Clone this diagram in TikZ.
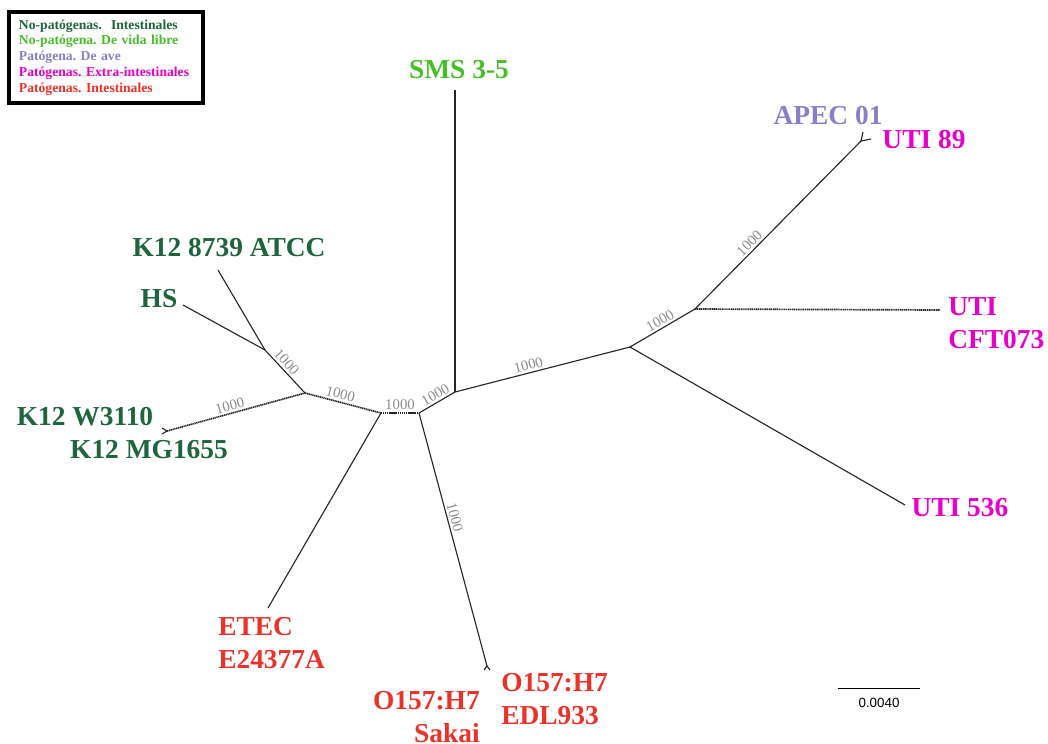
\documentclass[tikz,border=0pt]{standalone}
\usepackage{fontspec}
\setmainfont{Liberation Serif}
\setsansfont{Liberation Sans}
\frenchspacing
\definecolor{nopatint}{RGB}{30,100,60}
\definecolor{novida}{RGB}{70,190,40}
\definecolor{ave}{RGB}{140,125,200}
\definecolor{extraint}{RGB}{230,0,200}
\definecolor{patint}{RGB}{235,50,40}
\begin{document}
\begin{tikzpicture}[
x=0.025cm, y=-0.025cm,
branch/.style={draw=black!85, line width=0.8pt},
hatched/.style={branch, line width=1.2pt, dash pattern=on 0.9pt off 0.45pt},
boot/.style={font=\fontsize{10.5}{11}\selectfont, text=black!45, sloped, above, inner sep=1.5pt},
strain/.style={font=\fontsize{19.5}{23.5}\selectfont\bfseries, inner sep=0pt},
legendbox/.style={
draw,
line width=2.8pt,
minimum width=4.85cm,
minimum height=2.275cm,
inner xsep=0.25cm,
text width=4.35cm,
align=left,
font=\fontsize{9.7}{11.2}\selectfont\bfseries
}
]
\useasboundingbox (0,0) rectangle (1048,744);
\node[legendbox, anchor=north west] (legend) at (7,10) {\textcolor{nopatint}{No-patógenas.\ \ Intestinales}\\
\textcolor{novida}{No-patógena. De vida libre}\\
\textcolor{ave}{Patógena. De ave}\\
\textcolor{extraint}{Patógenas. Extra-intestinales}\\
\textcolor{patint}{Patógenas. Intestinales}};
\coordinate (nA) at (305,393);
\coordinate (nB) at (265,350);
\coordinate (nC) at (381,413);
\coordinate (nD) at (419,413);
\coordinate (nE) at (455,392);
\coordinate (nF) at (630,347);
\coordinate (nG) at (695,309);
\coordinate (tATCC) at (218,270);
\coordinate (tHS) at (183,305);
\coordinate (tW) at (167,431);
\coordinate (fW1) at (162,428);
\coordinate (fW2) at (162,434);
\coordinate (tETEC) at (268,608);
\coordinate (tO) at (487,666);
\coordinate (fO1) at (484,670);
\coordinate (fO2) at (490,670);
\coordinate (tSMS) at (455,90);
\coordinate (tU89) at (861,141);
\coordinate (fU1) at (863,132);
\coordinate (fU2) at (871,139);
\coordinate (tCFT) at (940,310);
\coordinate (t536) at (905,505);
\coordinate (sbl) at (838,688);
\coordinate (sbr) at (920,688);
\draw[branch] (nB) -- (nA) node[boot, pos=0.4] (bBA) {1000};
\draw[branch] (nB) -- (tATCC);
\draw[branch] (nB) -- (tHS);
\draw[hatched] (tW) -- (nA) node[boot, pos=0.47] (bWA) {1000};
\draw[branch] (tW) -- (fW1);
\draw[branch] (tW) -- (fW2);
\draw[hatched] (nA) -- (nC) node[boot, pos=0.44] (bAC) {1000};
\draw[hatched] (nC) -- (nD) node[boot, pos=0.5] (bCD) {1000};
\draw[branch] (nC) -- (tETEC);
\draw[branch] (nD) -- (nE) node[boot, pos=0.56] (bDE) {1000};
\draw[branch] (nD) -- (tO) node[boot, pos=0.42] (bDO) {1000};
\draw[branch] (tO) -- (fO1);
\draw[branch] (tO) -- (fO2);
\draw[branch] (nE) -- (tSMS);
\draw[branch] (nE) -- (nF) node[boot, pos=0.43] (bEF) {1000};
\draw[branch] (nF) -- (nG) node[boot, pos=0.52] (bFG) {1000};
\draw[branch] (nF) -- (t536);
\draw[hatched] (nG) -- (tCFT);
\draw[branch] (nG) -- (tU89) node[boot, pos=0.36] (bGU) {1000};
\draw[branch] (tU89) -- (fU1);
\draw[branch] (tU89) -- (fU2);
\node[strain, text=nopatint] (k12atcc) at (229,248) {K12 8739 ATCC};
\node[strain, text=nopatint] (hs) at (159,299) {HS};
\node[strain, text=nopatint] (w3110) at (85,417) {K12 W3110};
\node[strain, text=nopatint] (mg1655) at (149,450) {K12 MG1655};
\node[strain, text=patint, align=left, anchor=north west] (etec) at (218,617) {ETEC\\E24377A};
\node[strain, text=patint, align=right, anchor=north east] (sakai) at (480,691) {O157:H7\\Sakai};
\node[strain, text=patint, align=left, anchor=north west] (edl933) at (501,673) {O157:H7\\EDL933};
\node[strain, text=novida] (sms) at (459,70) {SMS 3-5};
\node[strain, text=ave] (apec) at (828,116) {APEC 01};
\node[strain, text=extraint] (uti89) at (924,140) {UTI 89};
\node[strain, text=extraint, align=left, anchor=north west] (cft073) at (948,297) {UTI\\CFT073};
\node[strain, text=extraint] (uti536) at (960,508) {UTI 536};
\draw[line width=0.7pt] (sbl) -- (sbr);
\node[font=\sffamily\fontsize{9.5}{11}\selectfont, inner sep=0pt] (scale) at (879,703) {0.0040};
\end{tikzpicture}
\end{document}
